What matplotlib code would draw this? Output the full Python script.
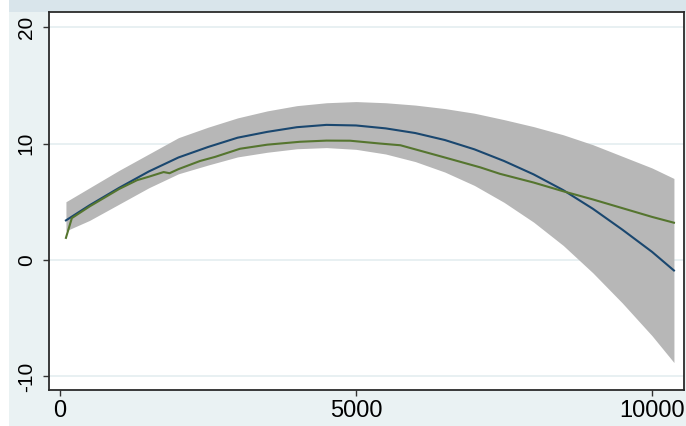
import matplotlib
matplotlib.use("Agg")
import matplotlib.pyplot as plt
from matplotlib.patches import Rectangle
from matplotlib import font_manager as fm

# ---- data ----
x_fit = [100, 500, 1000, 1500, 2000, 2500, 3000, 3500, 4000, 4500, 5000,
         5500, 6000, 6500, 7000, 7500, 8000, 8500, 9000, 9500, 10000, 10370]
quad_fit = [3.4, 4.7, 6.2, 7.6, 8.8, 9.7, 10.5, 11.0, 11.4, 11.6, 11.55,
            11.3, 10.9, 10.3, 9.5, 8.5, 7.35, 6.0, 4.4, 2.6, 0.7, -0.9]
ci_upper = [5.0, 6.2, 7.7, 9.1, 10.5, 11.4, 12.2, 12.8, 13.25, 13.5, 13.6,
            13.5, 13.3, 13.0, 12.6, 12.05, 11.45, 10.75, 9.9, 8.9, 7.9, 7.0]
ci_lower = [2.5, 3.4, 4.8, 6.2, 7.4, 8.15, 8.85, 9.25, 9.55, 9.65, 9.5,
            9.1, 8.45, 7.55, 6.4, 4.95, 3.25, 1.25, -1.1, -3.7, -6.5, -8.8]

x_low = [100, 200, 500, 1000, 1300, 1500, 1750, 1850, 2000, 2365, 2618, 3040,
         3500, 4054, 4500, 4900, 5400, 5750, 6500, 7100, 7430, 8000, 8500,
         9000, 9500, 10000, 10370]
lowess = [1.9, 3.6, 4.6, 6.1, 6.85, 7.15, 7.55, 7.45, 7.8, 8.5, 8.85, 9.55,
          9.9, 10.15, 10.25, 10.24, 10.0, 9.85, 8.8, 7.95, 7.4, 6.65, 5.9,
          5.2, 4.45, 3.7, 3.2]

x_ticks = [0, 5000, 10000]
y_ticks = [-10, 0, 10, 20]

# ---- styling ----
avail = {f.name for f in fm.fontManager.ttflist}
xfam = [f for f in ["Liberation Sans Narrow", "Liberation Sans", "DejaVu Sans"] if f in avail] or ["DejaVu Sans"]
yfam = [f for f in ["Liberation Sans", "DejaVu Sans"] if f in avail] or ["DejaVu Sans"]
plt.rcParams["font.family"] = yfam

BG = "#eaf2f3"
W, H = 686, 426
fig = plt.figure(figsize=(W / 100, H / 100), dpi=100, facecolor=BG)
fig.patches.append(Rectangle((0, 0), 9 / W, 1, transform=fig.transFigure,
                             facecolor="white", edgecolor="none", zorder=-1))
fig.patches.append(Rectangle((9 / W, 1 - 12 / H), 1, 12 / H, transform=fig.transFigure,
                             facecolor="#d9e5eb", edgecolor="none", zorder=-1))

ax = fig.add_axes([49 / W, 1 - 390 / H, (684 - 49) / W, (390 - 12) / H])
ax.set_facecolor("white")

ax.fill_between(x_fit, ci_lower, ci_upper, color="#b7b7b7", linewidth=0, zorder=2)
ax.plot(x_fit, quad_fit, color="#1a476f", lw=1.5, zorder=3)
ax.plot(x_low, lowess, color="#55752f", lw=1.5, zorder=4)

ax.set_xlim(-186, 10540)
ax.set_ylim(-11.16, 21.29)
ax.set_xticks(x_ticks)
ax.set_yticks(y_ticks)
ax.set_xticklabels([str(v) for v in x_ticks], family=xfam, fontsize=17)
ax.set_yticklabels([str(v) for v in y_ticks], rotation=90, va="center",
                   family=yfam, fontsize=15)

for y in y_ticks:
    ax.axhline(y, color="#e6eff1", lw=1.3, zorder=1)

for s in ax.spines.values():
    s.set_color("#2b2b2b")
    s.set_linewidth(1.3)
ax.tick_params(axis="both", direction="out", length=4.5, width=1.0,
               color="#333333", labelcolor="black")
ax.tick_params(axis="x", pad=3)
ax.tick_params(axis="y", pad=5)

fig.savefig("out.png", dpi=100, facecolor=BG)
